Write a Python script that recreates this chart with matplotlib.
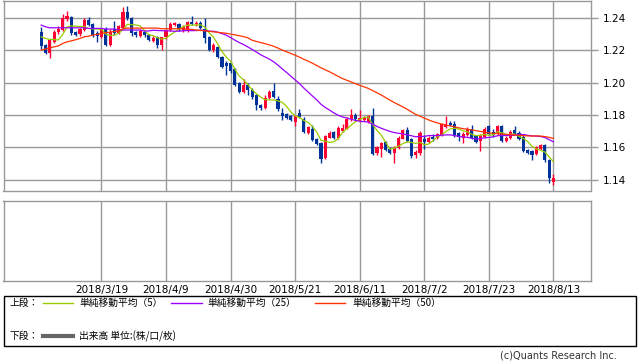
import numpy as np
import pandas as pd
import matplotlib
matplotlib.use('Agg')
import matplotlib.pyplot as plt
from matplotlib.patches import Rectangle

plt.rcParams['font.family'] = ['DejaVu Sans', 'Noto Sans CJK JP']

# daily candles (EUR/USD style)
opens = [1.2313, 1.2233, 1.2185, 1.2253, 1.2315, 1.2326, 1.2394, 1.2404, 1.2311, 1.2301,
         1.2326, 1.2388, 1.2363, 1.2305, 1.2280, 1.2330, 1.2233, 1.2330, 1.2305, 1.2336,
         1.2439, 1.2398, 1.2311, 1.2288, 1.2315, 1.2295, 1.2259, 1.2280, 1.2233, 1.2280,
         1.2326, 1.2357, 1.2363, 1.2321, 1.2321, 1.2375, 1.2363, 1.2371, 1.2330, 1.2284,
         1.2202, 1.2222, 1.2160, 1.2123, 1.2119, 1.2082, 1.1995, 1.1943, 1.1985, 1.1954,
         1.1923, 1.1861, 1.1840, 1.1908, 1.1949, 1.1896, 1.1809, 1.1803, 1.1794, 1.1757,
         1.1813, 1.1778, 1.1689, 1.1716, 1.1654, 1.1627, 1.1536, 1.1660, 1.1693, 1.1660,
         1.1701, 1.1716, 1.1772, 1.1799, 1.1764, 1.1768, 1.1757, 1.1792, 1.1565, 1.1592,
         1.1633, 1.1592, 1.1565, 1.1598, 1.1654, 1.1706, 1.1648, 1.1551, 1.1565, 1.1654,
         1.1633, 1.1664, 1.1660, 1.1675, 1.1726, 1.1751, 1.1747, 1.1689, 1.1660, 1.1675,
         1.1716, 1.1668, 1.1640, 1.1664, 1.1730, 1.1695, 1.1685, 1.1730, 1.1640, 1.1660,
         1.1706, 1.1689, 1.1664, 1.1582, 1.1577, 1.1557, 1.1592, 1.1613, 1.1524, 1.1385]
closes = [1.2228, 1.2185, 1.2264, 1.2315, 1.2332, 1.2398, 1.2414, 1.2305, 1.2297, 1.2330,
          1.2388, 1.2357, 1.2295, 1.2288, 1.2330, 1.2233, 1.2315, 1.2305, 1.2350, 1.2439,
          1.2398, 1.2305, 1.2297, 1.2321, 1.2295, 1.2264, 1.2278, 1.2233, 1.2280, 1.2326,
          1.2363, 1.2367, 1.2330, 1.2346, 1.2377, 1.2363, 1.2371, 1.2336, 1.2274, 1.2202,
          1.2233, 1.2156, 1.2098, 1.2102, 1.2073, 1.1985, 1.1943, 1.1985, 1.1954, 1.1912,
          1.1861, 1.1840, 1.1908, 1.1943, 1.1912, 1.1834, 1.1792, 1.1784, 1.1768, 1.1792,
          1.1788, 1.1695, 1.1726, 1.1644, 1.1619, 1.1530, 1.1668, 1.1689, 1.1660, 1.1722,
          1.1722, 1.1778, 1.1799, 1.1772, 1.1784, 1.1788, 1.1792, 1.1561, 1.1602, 1.1627,
          1.1582, 1.1565, 1.1598, 1.1660, 1.1706, 1.1640, 1.1544, 1.1571, 1.1689, 1.1633,
          1.1660, 1.1654, 1.1685, 1.1743, 1.1747, 1.1737, 1.1675, 1.1664, 1.1685, 1.1716,
          1.1660, 1.1633, 1.1675, 1.1716, 1.1685, 1.1675, 1.1730, 1.1640, 1.1660, 1.1695,
          1.1685, 1.1654, 1.1577, 1.1565, 1.1551, 1.1602, 1.1613, 1.1520, 1.1412, 1.1410]
highs = [1.2342, 1.2240, 1.2272, 1.2325, 1.2352, 1.2425, 1.2445, 1.2412, 1.2320, 1.2338,
         1.2400, 1.2405, 1.2370, 1.2318, 1.2340, 1.2345, 1.2335, 1.2385, 1.2360, 1.2466,
         1.2474, 1.2405, 1.2318, 1.2332, 1.2325, 1.2300, 1.2290, 1.2290, 1.2285, 1.2335,
         1.2375, 1.2378, 1.2370, 1.2355, 1.2385, 1.2410, 1.2385, 1.2385, 1.2398, 1.2290,
         1.2245, 1.2230, 1.2168, 1.2135, 1.2125, 1.2090, 1.2005, 1.2020, 1.1995, 1.1965,
         1.1930, 1.1870, 1.1925, 1.1955, 1.1999, 1.1920, 1.1840, 1.1812, 1.1800, 1.1800,
         1.1835, 1.1785, 1.1733, 1.1740, 1.1660, 1.1635, 1.1675, 1.1700, 1.1700, 1.1730,
         1.1747, 1.1790, 1.1835, 1.1810, 1.1830, 1.1795, 1.1800, 1.1846, 1.1610, 1.1635,
         1.1640, 1.1600, 1.1605, 1.1670, 1.1716, 1.1726, 1.1655, 1.1580, 1.1700, 1.1675,
         1.1670, 1.1680, 1.1690, 1.1750, 1.1792, 1.1760, 1.1760, 1.1695, 1.1695, 1.1725,
         1.1740, 1.1675, 1.1685, 1.1725, 1.1738, 1.1710, 1.1738, 1.1740, 1.1668, 1.1705,
         1.1730, 1.1700, 1.1675, 1.1590, 1.1582, 1.1608, 1.1620, 1.1622, 1.1530, 1.1433]
lows = [1.2211, 1.2178, 1.2150, 1.2244, 1.2300, 1.2320, 1.2385, 1.2295, 1.2288, 1.2292,
        1.2318, 1.2350, 1.2285, 1.2255, 1.2275, 1.2226, 1.2228, 1.2298, 1.2300, 1.2330,
        1.2390, 1.2290, 1.2280, 1.2280, 1.2282, 1.2258, 1.2250, 1.2212, 1.2201, 1.2270,
        1.2318, 1.2350, 1.2322, 1.2315, 1.2315, 1.2355, 1.2352, 1.2330, 1.2245, 1.2195,
        1.2188, 1.2150, 1.2090, 1.2050, 1.2062, 1.1978, 1.1935, 1.1935, 1.1925, 1.1900,
        1.1830, 1.1830, 1.1835, 1.1900, 1.1905, 1.1825, 1.1770, 1.1778, 1.1762, 1.1730,
        1.1780, 1.1688, 1.1680, 1.1638, 1.1612, 1.1503, 1.1525, 1.1655, 1.1650, 1.1652,
        1.1695, 1.1710, 1.1765, 1.1760, 1.1755, 1.1760, 1.1750, 1.1555, 1.1555, 1.1540,
        1.1575, 1.1560, 1.1505, 1.1590, 1.1648, 1.1632, 1.1535, 1.1535, 1.1555, 1.1590,
        1.1625, 1.1640, 1.1650, 1.1670, 1.1720, 1.1730, 1.1665, 1.1640, 1.1625, 1.1668,
        1.1650, 1.1625, 1.1575, 1.1655, 1.1675, 1.1665, 1.1675, 1.1635, 1.1630, 1.1652,
        1.1680, 1.1645, 1.1570, 1.1558, 1.1524, 1.1550, 1.1585, 1.1510, 1.1380, 1.1364]

# moving-average values before enough candles are on screen
ma5_head = [1.2284, 1.2274, 1.2268, 1.2267]
ma25_head = [1.2357, 1.2346, 1.2340, 1.2340, 1.2340, 1.2340, 1.2340, 1.2340, 1.2340, 1.2340,
             1.2340, 1.2336, 1.2336, 1.2336, 1.2336, 1.2332, 1.2332, 1.2332, 1.2326, 1.2326,
             1.2326, 1.2326, 1.2326, 1.2326]
ma50_head = [1.2202, 1.2208, 1.2216, 1.2222, 1.2228, 1.2243, 1.2253, 1.2259, 1.2266, 1.2274,
             1.2284, 1.2288, 1.2295, 1.2299, 1.2305, 1.2309, 1.2313, 1.2317, 1.2321, 1.2334,
             1.2338, 1.2338, 1.2338, 1.2338, 1.2338, 1.2338, 1.2338, 1.2338, 1.2334, 1.2334,
             1.2334, 1.2334, 1.2334, 1.2334, 1.2330, 1.2330, 1.2326, 1.2324, 1.2321, 1.2318,
             1.2315, 1.2312, 1.2309, 1.2306, 1.2301, 1.2296, 1.2291, 1.2285, 1.2278]

tick_labels = ['2018/3/19', '2018/4/9', '2018/4/30', '2018/5/21',
               '2018/6/11', '2018/7/2', '2018/7/23', '2018/8/13']
yticks = [1.14, 1.16, 1.18, 1.20, 1.22, 1.24]

dates = pd.bdate_range('2018-02-27', periods=len(closes))
date_labels = [f'{d.year}/{d.month}/{d.day}' for d in dates]
tick_pos = [date_labels.index(t) for t in tick_labels]

cs = pd.Series(closes)
def sma(n, head):
    m = cs.rolling(n).mean().to_numpy()
    m[:len(head)] = head
    return m

ma5 = sma(5, ma5_head)
ma25 = sma(25, ma25_head)
ma50 = sma(50, ma50_head)

W, H = 638, 362
fig = plt.figure(figsize=(W / 100, H / 100), dpi=100)

def fx(px):
    return px / W

def fy(py):
    return 1 - py / H

grid_c = '#999999'
up_c = '#ff0033'
dn_c = '#003399'

ax = fig.add_axes([fx(3.5), fy(190.5), fx(590.5) - fx(3.5), fy(0.5) - fy(190.5)])
ax2 = fig.add_axes([fx(3.5), fy(280.5), fx(590.5) - fx(3.5), fy(201) - fy(280.5)])

x = np.arange(len(closes))
xlim = (-8.76, 127.6)

for a in (ax, ax2):
    a.set_xlim(*xlim)
    for s in a.spines.values():
        s.set_color(grid_c)
        s.set_linewidth(1)
    for t in tick_pos:
        a.axvline(t, color=grid_c, lw=1, zorder=0)
    a.set_xticks([])
    a.set_yticks([])

ax.set_ylim(1.1332, 1.2509)
for yv in yticks:
    ax.axhline(yv, color=grid_c, lw=1, zorder=0)
ax.yaxis.tick_right()
ax.set_yticks(yticks)
ax.set_yticklabels([f'{v:.2f}' for v in yticks])
ax.tick_params(axis='y', length=5, width=1, color=grid_c, pad=4, labelsize=7.5)

# candles
for i in x:
    o, c = opens[i], closes[i]
    col = up_c if c >= o else dn_c
    ax.vlines(i, lows[i], highs[i], color=col, lw=1, zorder=3)
    ax.bar(i, max(abs(c - o), 0.0003), bottom=min(o, c), width=0.72,
           color=col, edgecolor='none', zorder=4)

ax.plot(x, ma5, color='#99cc00', lw=0.9, zorder=5)
ax.plot(x, ma25, color='#9900ff', lw=0.9, zorder=5)
ax.plot(x, ma50, color='#ff3300', lw=0.9, zorder=5)

ax2.set_ylim(0, 1)
ax2.set_xticks(tick_pos)
ax2.set_xticklabels(tick_labels)
ax2.tick_params(axis='x', length=0, pad=3, labelsize=7.5)

# legend box
fig.patches.append(Rectangle((fx(3.5), fy(346)), fx(636) - fx(3.5), fy(295.5) - fy(346),
                             transform=fig.transFigure, fill=False,
                             edgecolor='black', lw=1))
jp = ['Noto Sans CJK JP', 'DejaVu Sans']
fig.text(fx(10), fy(303), '上段：', family=jp, fontsize=7, va='center')
fig.text(fx(10), fy(336), '下段：', family=jp, fontsize=7, va='center')
legend_items = [(43, 73, 79, '#99cc00', '単純移動平均（5）'),
                (171, 202, 207, '#9900ff', '単純移動平均（25）'),
                (315, 345, 352, '#ff3300', '単純移動平均（50）')]
for x0, x1, tx, col, lab in legend_items:
    fig.add_artist(plt.Line2D([fx(x0), fx(x1)], [fy(303), fy(303)], color=col, lw=1))
    fig.text(fx(tx), fy(303), lab, family=jp, fontsize=7, va='center')
fig.add_artist(plt.Line2D([fx(43), fx(73)], [fy(336), fy(336)], color='#666666', lw=3))
fig.text(fx(79), fy(336), '出来高 単位:(株/口/枚)', family=jp, fontsize=7, va='center')

fig.text(fx(617), fy(356), '(c)Quants Research Inc.', fontsize=7, ha='right',
         va='center', color='#333333')

fig.savefig('out.png', dpi=100)
